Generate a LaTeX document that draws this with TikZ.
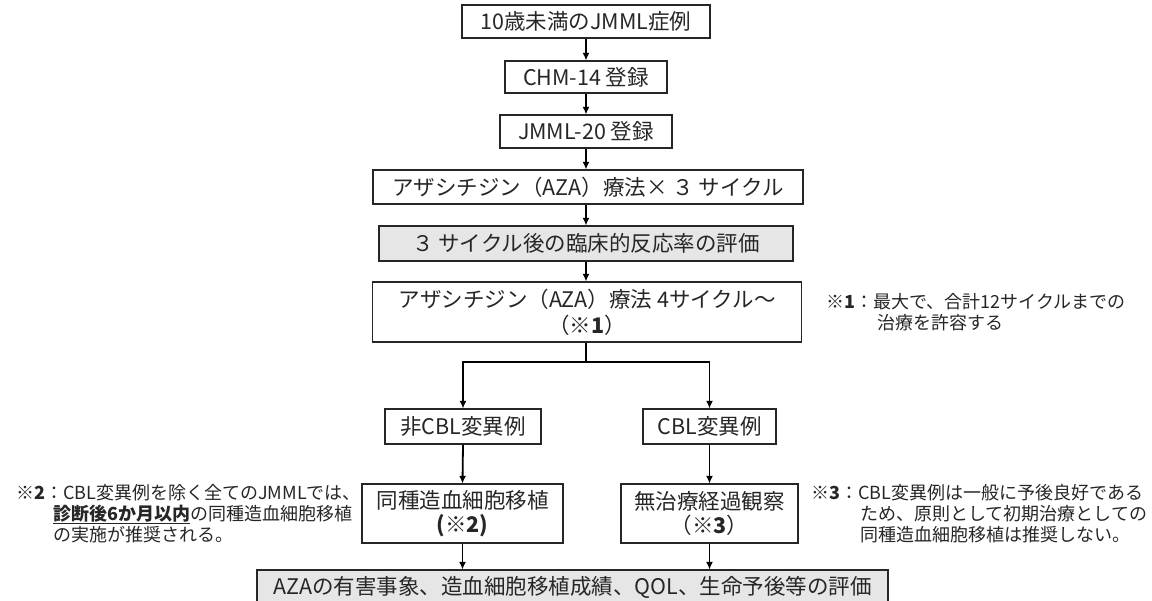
\documentclass[tikz,border=0pt]{standalone}
\usepackage{fontspec}
\setmainfont{Noto Sans CJK JP}
\usetikzlibrary{arrows.meta}
\definecolor{boxgray}{RGB}{231,230,230}
\definecolor{ink}{RGB}{38,38,38}
\tikzset{
  box/.style={draw=ink, line width=1.2pt, text=ink, font=\fontsize{21.5}{25}\selectfont, inner sep=0pt, align=center},
  graybox/.style={box, fill=boxgray},
  arr/.style={draw=black, line width=1.8pt, -{Latex[length=7.5pt,width=7pt]}},
  conn/.style={draw=black, line width=1.8pt},
  note/.style={font=\fontsize{18}{21}\selectfont, align=left, anchor=west, inner sep=0pt, text=ink}
}
\begin{document}
\begin{tikzpicture}[x=1pt,y=-1pt]
\useasboundingbox (0,0) rectangle (1152,601);
% main column
\node[box, minimum width=248pt, minimum height=33pt] (b1) at (586,21.5) {10歳未満のJMML症例};
\node[box, minimum width=162pt, minimum height=32pt] (b2) at (586,77) {CHM-14 登録};
\node[box, minimum width=172pt, minimum height=33pt] (b3) at (586,131.5) {JMML-20 登録};
\node[box, minimum width=430pt, minimum height=34pt] (b4) at (588,187) {アザシチジン（AZA）療法× ３ サイクル};
\node[graybox, minimum width=414pt, minimum height=35pt] (b5) at (586,243.5) {３ サイクル後の臨床的反応率の評価};
\node[box, minimum width=429pt, minimum height=60pt, font=\fontsize{21.5}{26}\selectfont] (b6) at (587,312) {アザシチジン（AZA）療法 4サイクル～\\（※\textbf{1}）};
\coordinate (split) at (586,362);
% branches
\node[box, minimum width=156pt, minimum height=35pt] (b7) at (463,426.5) {非CBL変異例};
\node[box, minimum width=133pt, minimum height=35pt] (b8) at (709.5,426.5) {CBL変異例};
\node[box, minimum width=201pt, minimum height=59pt, font=\fontsize{21.5}{24}\selectfont] (b9) at (462.5,513.5) {同種造血細胞移植\\\textbf{(※2)}};
\node[box, minimum width=177pt, minimum height=59pt, font=\fontsize{21.5}{24}\selectfont] (b10) at (709.5,513.5) {無治療経過観察\\（※\textbf{3}）};
\node[graybox, minimum width=631pt, minimum height=34pt] (b11) at (572.5,587) {AZAの有害事象、造血細胞移植成績、QOL、生命予後等の評価};
% connectors
\draw[arr] (b1.south) -- (b2.north);
\draw[arr] (b2.south) -- (b3.north);
\draw[arr] (b3.south) -- (b3.south |- b4.north);
\draw[arr] (b3.south |- b4.south) -- (b5.north);
\draw[arr] (b5.south) -- (b5.south |- b6.north);
\draw[conn] (b5.south |- b6.south) -- (split);
\draw[arr] (split) -| (b7.north);
\draw[arr] (split) -| (b8.north);
\draw[arr] (b7.south) -- (b9.north);
\draw[arr] (b8.south) -- (b8.south |- b10.north);
\draw[arr] (b9.south) -- (b9.south |- b11.north);
\draw[arr] (b10.south) -- (b10.south |- b11.north);
% notes
\node[note] (n1) at (826,312) {※\textbf{1}：最大で、合計12サイクルまでの\\\hspace*{51pt}治療を許容する};
\node[note] (n2) at (16,513.5) {※\textbf{2}：CBL変異例を除く全てのJMMLでは、\\\hspace*{37pt}\underline{\textbf{診断後6か月以内}}の同種造血細胞移植\\\hspace*{37pt}の実施が推奨される。};
\node[note] (n3) at (811,514) {※\textbf{3}：CBL変異例は一般に予後良好である\\\hspace*{49pt}ため、原則として初期治療としての\\\hspace*{49pt}同種造血細胞移植は推奨しない。};
\end{tikzpicture}
\end{document}
